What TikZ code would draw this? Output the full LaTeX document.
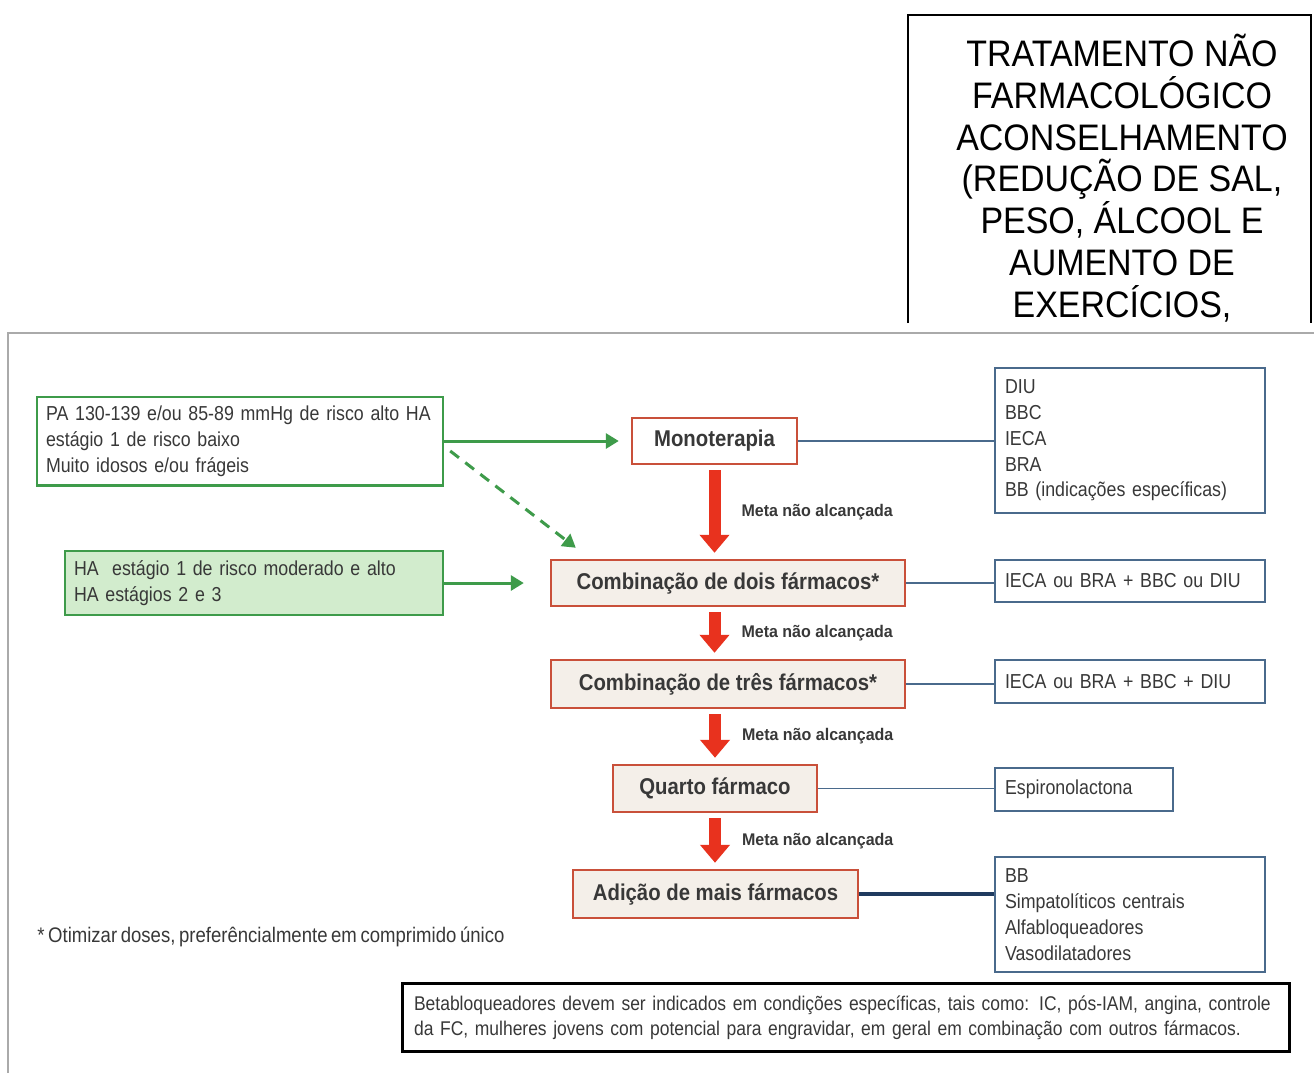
\documentclass[tikz,border=0pt]{standalone}
\usepackage{fontspec}
\setmainfont{Liberation Sans}
\newfontfamily\narrowfont[FakeStretch=0.88, WordSpace=0.7]{Liberation Sans}
\newfontfamily\boldnarrow[FakeStretch=0.89]{Liberation Sans}
\newfontfamily\metafont[FakeStretch=0.95]{Liberation Sans}
\newfontfamily\capsfont[FakeStretch=0.92]{Liberation Sans}
\usetikzlibrary{arrows.meta,positioning}
\definecolor{framegray}{HTML}{AAAAAA}
\definecolor{ink}{HTML}{383838}
\definecolor{grn}{HTML}{3E9B4A}
\definecolor{grnfill}{HTML}{D2ECCD}
\definecolor{redline}{HTML}{C9503A}
\definecolor{redfill}{HTML}{F4EFE9}
\definecolor{redarrow}{HTML}{E8321E}
\definecolor{blueline}{HTML}{4A6A8C}
\definecolor{navy}{HTML}{1F3A5F}

\begin{document}
\begin{tikzpicture}[
x=0.02cm, y=-0.02cm,
txt/.style={text=ink, font=\narrowfont\fontsize{11.5}{14.7}\selectfont},
greenbox/.style={txt, draw=grn, line width=0.05cm, align=left, inner sep=0.18cm},
redbox/.style={draw=redline, line width=0.05cm, fill=redfill, text=ink, font=\boldnarrow\bfseries\fontsize{13}{15}\selectfont, inner sep=0pt},
bluebox/.style={txt, draw=blueline, line width=0.05cm, align=left, inner sep=0.2cm},
metalabel/.style={text=ink, font=\metafont\bfseries\fontsize{9.6}{11}\selectfont, inner sep=0pt},
stagearrow/.style={draw=redarrow, line width=0.24cm, -{Triangle[width=0.58cm,length=0.36cm]}, shorten <=0.1cm, shorten >=0.12cm},
greenarrow/.style={draw=grn, line width=0.06cm, -{Triangle[width=0.3cm,length=0.26cm]}},
blueconn/.style={draw=blueline, line width=0.035cm}
]
\useasboundingbox (0,0) rectangle (1314,1073);
\fill[white] (0,0) rectangle (1314,1073);
\draw[framegray, line width=0.04cm] (8,1073) |- (1314,333);
\draw[line width=0.04cm] (908,323) |- (1311,15) -- (1311,323);
\node[align=center, font=\capsfont\fontsize{21}{23.8}\selectfont] (advice) at (1122,178) {TRATAMENTO NÃO\\FARMACOLÓGICO\\ACONSELHAMENTO\\(REDUÇÃO DE SAL,\\PESO, ÁLCOOL E\\AUMENTO DE\\EXERCÍCIOS,};

\node[greenbox, text width=7.76cm, minimum height=1.76cm] (low) at (240,441) {PA 130-139 e/ou 85-89 mmHg de risco alto HA\\estágio 1 de risco baixo\\Muito idosos e/ou frágeis};
\node[greenbox, fill=grnfill, text width=7.2cm, minimum height=1.28cm] (high) at (254,583) {HA\ \ estágio 1 de risco moderado e alto\\HA estágios 2 e 3};

\node[redbox, fill=white, minimum width=3.3cm, minimum height=0.92cm] (mono) at (714.5,441) {Monoterapia};
\node[redbox, minimum width=7.08cm, minimum height=0.92cm] (duo) at (728,583) {Combinação de dois fármacos*};
\node[redbox, minimum width=7.08cm, minimum height=0.96cm] (trio) at (728,684) {Combinação de três fármacos*};
\node[redbox, minimum width=4.08cm, minimum height=0.94cm] (fourth) at (715,788.5) {Quarto fármaco};
\node[redbox, minimum width=5.7cm, minimum height=0.96cm] (more) at (715.5,894) {Adição de mais fármacos};

\node[bluebox, text width=5.0cm, minimum height=2.9cm] (monolist) at (1130,440.5) {DIU\\BBC\\IECA\\BRA\\BB (indicações específicas)};
\node[bluebox, text width=5.0cm, minimum height=0.84cm] (duolist) at (1130,581) {IECA ou BRA + BBC ou DIU};
\node[bluebox, text width=5.0cm, minimum height=0.86cm] (triolist) at (1130,681.5) {IECA ou BRA + BBC + DIU};
\node[bluebox, text width=3.16cm, minimum height=0.86cm] (fourthlist) at (1084,789.5) {Espironolactona};
\node[bluebox, text width=5.0cm, minimum height=2.3cm] (morelist) at (1130,914.5) {BB\\Simpatolíticos centrais\\Alfabloqueadores\\Vasodilatadores};

\node[txt, anchor=west, inner sep=0pt, font=\narrowfont\fontsize{12}{14.7}\selectfont] (footnote) at (37,937) {* Otimizar doses, preferêncialmente em comprimido único};
\node[txt, draw=black, line width=0.06cm, align=left, text width=17.28cm, minimum height=1.3cm, inner sep=0.24cm, font=\narrowfont\fontsize{11.3}{14.2}\selectfont] (betanote) at (846,1017.5) {Betabloqueadores devem ser indicados em condições específicas, tais como: IC, pós-IAM, angina, controle\\da FC, mulheres jovens com potencial para engravidar, em geral em combinação com outros fármacos.};

\draw[greenarrow, shorten >=0.24cm] (low.east) -- (low.east -| mono.west);
\draw[greenarrow, shorten >=0.52cm] (high.east) -- (high.east -| duo.west);
\draw[greenarrow, dash pattern=on 0.22cm off 0.16cm] ([shift={(6,10)}]low.east) -- ([shift={(26,-11)}]duo.north west);

\draw[stagearrow] (mono.south) -- (mono.south |- duo.north) node[metalabel, midway, right=0.42cm] {Meta não alcançada};
\draw[stagearrow] (duo.south -| mono.south) -- (trio.north -| mono.south) node[metalabel, midway, right=0.42cm] {Meta não alcançada};
\draw[stagearrow] (trio.south -| fourth.north) -- (fourth.north) node[metalabel, midway, right=0.42cm] {Meta não alcançada};
\draw[stagearrow] (fourth.south) -- (fourth.south |- more.north) node[metalabel, midway, right=0.42cm] {Meta não alcançada};

\draw[blueconn] (mono.east) -- (mono.east -| monolist.west);
\draw[blueconn] (duo.east) -- (duo.east -| duolist.west);
\draw[blueconn] (trio.east) -- (trio.east -| triolist.west);
\draw[blueconn] (fourth.east) -- (fourth.east -| fourthlist.west);
\draw[draw=navy, line width=0.07cm] (more.east) -- (more.east -| morelist.west);
\end{tikzpicture}
\end{document}
